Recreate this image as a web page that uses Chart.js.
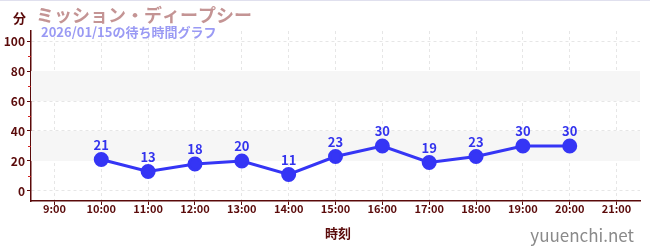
<!DOCTYPE html>
<html>
<head>
<meta charset="utf-8">
<script src="https://cdn.jsdelivr.net/npm/chart.js@4/dist/chart.umd.min.js"></script>
<style>
  html, body { margin:0; padding:0; background:#fff; }
  #wrap { position:relative; width:650px; height:250px; border-top:1px solid #e0e0ee; box-sizing:border-box; }
</style>
</head>
<body>
<div id="wrap"><canvas id="c" width="650" height="249"></canvas></div>
<script>
// dados do gráfico
const hours = ['9:00','10:00','11:00','12:00','13:00','14:00','15:00','16:00','17:00','18:00','19:00','20:00','21:00'];
const waits = [null, 21, 13, 18, 20, 11, 23, 30, 19, 23, 30, 30, null];
const yTicks = [0, 20, 40, 60, 80, 100];
const bands = [[20, 40], [60, 80]];

const titleText = 'ミッション・ディープシー';
const subText = '2026/01/15の待ち時間グラフ';
const font = '"Noto Sans CJK JP", "Noto Sans", sans-serif';
const axisColor = '#5a0a0a';

// faixas cinzas + ticks menores + textos
const extras = {
    id: 'extras',
    beforeDatasetsDraw(chart){
        const ctx = chart.ctx, y = chart.scales.y, a = chart.chartArea;
        ctx.save();
        ctx.fillStyle = '#f6f6f6';
        bands.forEach(b => {
            const top = y.getPixelForValue(b[1]), bot = y.getPixelForValue(b[0]);
            ctx.fillRect(a.left, top, a.right - a.left, bot - top);
        });
        ctx.restore();
    },
    afterDatasetsDraw(chart){
        const ctx = chart.ctx, y = chart.scales.y, a = chart.chartArea;
        ctx.save();
        // minor ticks
        ctx.strokeStyle = '#d02020';
        ctx.lineWidth = 1;
        [10, 30, 50, 70, 90].forEach(v => {
            const py = Math.round(y.getPixelForValue(v)) + 0.5;
            ctx.beginPath(); ctx.moveTo(a.left - 3, py); ctx.lineTo(a.left, py); ctx.stroke();
        });
        // data labels
        const meta = chart.getDatasetMeta(0);
        ctx.fillStyle = '#3333ee';
        ctx.font = 'bold 13px ' + font;
        ctx.textAlign = 'center';
        ctx.textBaseline = 'bottom';
        meta.data.forEach((p, i) => {
            if (waits[i] == null) return;
            ctx.fillText(String(waits[i]), p.x, p.y - 8);
        });
        // titulos
        ctx.textAlign = 'left';
        ctx.textBaseline = 'alphabetic';
        ctx.fillStyle = axisColor;
        ctx.font = 'bold 13px ' + font;
        ctx.fillText('分', 13, 22);
        ctx.fillStyle = '#c49494';
        ctx.font = 'bold 18px ' + font;
        ctx.fillText(titleText, 36, 21);
        ctx.fillStyle = '#9a9af4';
        ctx.font = 'bold 13px ' + font;
        ctx.fillText(subText, 41, 36);
        // eixo x titulo
        ctx.fillStyle = axisColor;
        ctx.textAlign = 'center';
        ctx.fillText('時刻', 338, 237);
        ctx.fillStyle = '#8a8a8a';
        ctx.textAlign = 'right';
        ctx.font = '17px ' + font;
        ctx.fillText('yuuenchi.net', 634, 241);
        ctx.restore();
    }
};

new Chart(document.getElementById('c'), {
    type: 'line',
    data: {
        labels: hours,
        datasets: [{
            data: waits,
            borderColor: '#3535f5',
            backgroundColor: '#3535f5',
            borderWidth: 3,
            pointRadius: 6,
            pointHoverRadius: 6,
            fill: false,
            tension: 0
        }]
    },
    options: {
        responsive: false,
        animation: false,
        events: [],
        layout: { padding: { top: 30, right: 10, left: 0, bottom: 0 } },
        plugins: { legend: { display: false }, tooltip: { enabled: false } },
        scales: {
            x: {
                offset: true,
                afterFit(s){ s.height = 49; },
                grid: { color: '#e6e6e6', tickColor: axisColor, tickLength: 4, offset: false },
                border: { color: axisColor, width: 1.5, dash: [3, 3] },
                ticks: { color: axisColor, font: { family: font, size: 11, weight: 'bold' }, padding: -3, maxRotation: 0 }
            },
            y: {
                min: -6.7, max: 106.7,
                afterFit(s){ s.width = 31; },
                afterBuildTicks(s){ s.ticks = yTicks.map(v => ({ value: v })); },
                grid: { color: '#e6e6e6', tickColor: axisColor, tickLength: 4 },
                border: { color: axisColor, width: 1.5, dash: [3, 3] },
                ticks: { color: axisColor, font: { family: font, size: 12, weight: 'bold' }, padding: 2 }
            }
        }
    },
    plugins: [extras]
});
</script>
</body>
</html>
